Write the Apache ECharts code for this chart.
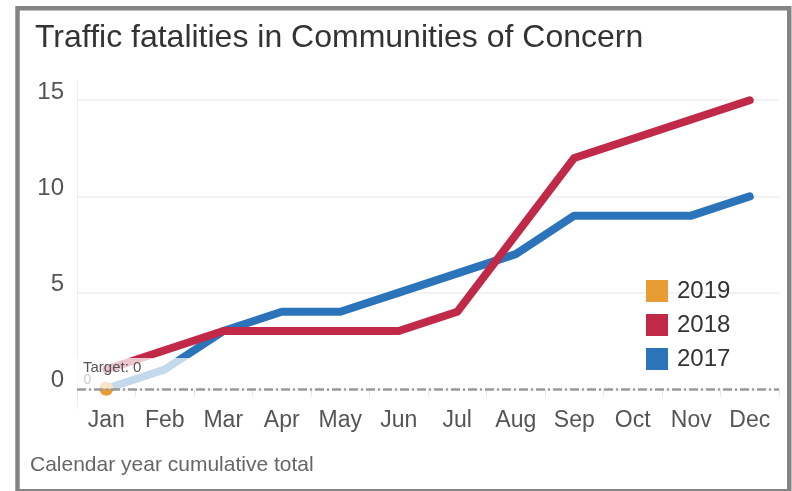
<!DOCTYPE html>
<html>
<head>
<meta charset="utf-8">
<script src="https://cdn.jsdelivr.net/npm/echarts@6/dist/echarts.min.js"></script>
<style>
  html, body { margin: 0; padding: 0; background: #fff; }
  #chart { width: 792px; height: 491px; }
</style>
</head>
<body>
<div id="chart"></div>
<script>
// Cumulative traffic fatalities by month
const months = ['Jan', 'Feb', 'Mar', 'Apr', 'May', 'Jun', 'Jul', 'Aug', 'Sep', 'Oct', 'Nov', 'Dec'];
const fatalities2017 = [0, 1, 3, 4, 4, 5, 6, 7, 9, 9, 9, 10];
const fatalities2018 = [1, 2, 3, 3, 3, 3, 4, 8, 12, 13, 14, 15];
const fatalities2019 = [0];
const targetValue = 0;
const yTickValues = [0, 5, 10, 15];
const yGridValues = [5, 10, 15];

const COLORS = { y2019: '#e99c33', y2018: '#c02a48', y2017: '#2b74b9' };
const FONT = '"Liberation Sans", Arial, sans-serif';

const chart = echarts.init(document.getElementById('chart'));

const lineSeries = (name, data, color) => ({
  name,
  type: 'line',
  data,
  showSymbol: false,
  symbol: 'rect',
  color,
  lineStyle: { width: 8, color, cap: 'round', join: 'round' },
  emphasis: { disabled: true },
  animation: false
});

chart.setOption({
  animation: false,
  textStyle: { fontFamily: FONT },
  title: [
    {
      text: 'Traffic fatalities in Communities of Concern',
      left: 30, top: 17,
      textStyle: { fontFamily: FONT, fontSize: 32, fontWeight: 'normal', color: '#333' }
    },
    {
      text: 'Calendar year cumulative total',
      left: 25, top: 450,
      textStyle: { fontFamily: FONT, fontSize: 21, fontWeight: 'normal', color: '#666' }
    }
  ],
  legend: {
    orient: 'vertical',
    left: 646, top: 279,
    padding: 0,
    itemWidth: 22, itemHeight: 22, itemGap: 10,
    icon: 'rect',
    data: ['2019', '2018', '2017'],
    textStyle: { fontFamily: FONT, fontSize: 24, color: '#333', padding: [0, 0, 0, 4] },
    selectedMode: false
  },
  grid: { left: 77, right: 13, top: 81, height: 327 },
  xAxis: {
    type: 'category',
    data: months,
    boundaryGap: true,
    axisLine: { lineStyle: { color: '#ececec', width: 1 } },
    axisTick: { show: true, length: 8, lineStyle: { color: '#e6e6e6' } },
    axisLabel: { fontFamily: FONT, fontSize: 23, color: '#555', margin: 1 }
  },
  yAxis: {
    type: 'value',
    min: -1, max: 16,
    axisLine: { show: true, lineStyle: { color: '#ececec', width: 1 } },
    axisTick: { show: false, customValues: yGridValues },
    splitLine: { show: true, lineStyle: { color: '#eeeeee', width: 1.5 } },
    axisLabel: {
      customValues: yTickValues,
      fontFamily: FONT, fontSize: 24, color: '#555',
      margin: 13, verticalAlign: 'bottom', padding: [0, 0, -4, 0]
    }
  },
  series: [
    lineSeries('2017', fatalities2017, COLORS.y2017),
    lineSeries('2018', fatalities2018, COLORS.y2018),
    {
      name: '2019',
      type: 'line',
      data: fatalities2019,
      color: COLORS.y2019,
      symbol: 'circle',
      symbolSize: 14,
      showSymbol: true,
      itemStyle: { color: COLORS.y2019 },
      lineStyle: { width: 8, color: COLORS.y2019 },
      label: {
        show: true, position: 'left', distance: 8, offset: [0, -9],
        fontFamily: FONT, fontSize: 14, color: '#333',
        formatter: p => String(p.value)
      },
      emphasis: { disabled: true }
    },
    {
      name: 'Target',
      type: 'line',
      data: [],
      z: 200,
      markLine: {
        silent: true,
        z: 200,
        symbol: ['none', 'none'],
        lineStyle: { color: '#9a9a9a', width: 2.5, type: [9, 3, 2, 3] },
        label: {
          show: true, position: 'insideStartTop', distance: [6, 13],
          fontFamily: FONT, fontSize: 15, color: '#555',
          formatter: 'Target: ' + targetValue
        },
        data: [{ yAxis: targetValue }]
      }
    }
  ],
  graphic: [
    {
      id: 'frame', type: 'rect', z: 300, silent: true,
      shape: { x: 17.5, y: 8.25, width: 771.75, height: 483 },
      style: { fill: 'none', stroke: '#848484', lineWidth: 4.5 }
    }
  ]
});

// Soft white wash over the early-year part of the plot, placed through the axes
function drawWash() {
  const jan = chart.convertToPixel({ gridIndex: 0 }, ['Jan', 1.6]);
  const feb = chart.convertToPixel({ gridIndex: 0 }, ['Feb', targetValue]);
  const mar = chart.convertToPixel({ gridIndex: 0 }, ['Mar', targetValue]);
  const band = feb[0] - jan[0];
  const x0 = jan[0] - band / 2;
  chart.setOption({
    graphic: [
      {
        id: 'wash', type: 'rect', z: 100, silent: true,
        shape: { x: x0, y: jan[1], width: mar[0] - x0, height: feb[1] - jan[1] },
        style: { fill: 'rgba(255,255,255,0.73)' }
      }
    ]
  });
}
drawWash();
</script>
</body>
</html>
